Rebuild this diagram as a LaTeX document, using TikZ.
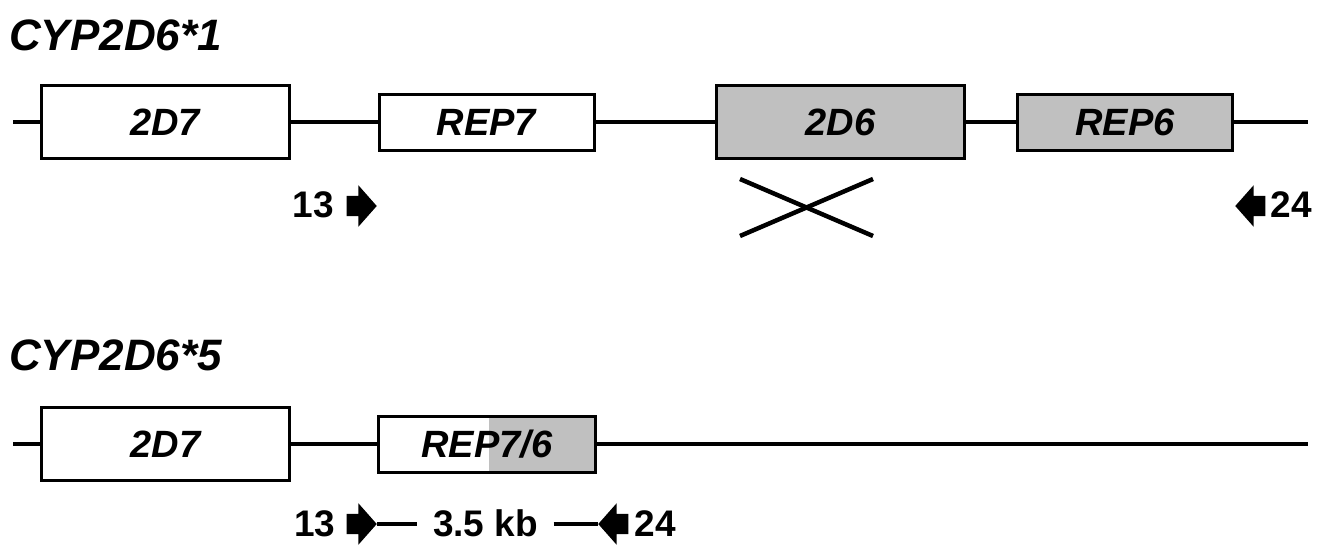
\documentclass[tikz,border=0pt]{standalone}
\usepackage{fontspec}
\setmainfont{Liberation Sans}
\usetikzlibrary{shapes.arrows}
\definecolor{boxgray}{RGB}{192,192,192}
\begin{document}
\begin{tikzpicture}[x=1pt,y=-1pt,
  genebox/.style={draw=black, line width=3pt, fill=white, inner sep=0pt,
    text height=27pt, text depth=0pt,
    font=\fontsize{38}{42}\selectfont\bfseries\itshape},
  bigbox/.style={genebox, minimum width=248pt, minimum height=73pt},
  smallbox/.style={genebox, minimum width=215pt, minimum height=56pt},
  dna/.style={draw=black, line width=3.2pt},
  crossline/.style={draw=black, line width=4.5pt},
  titletext/.style={anchor=base west, inner sep=0pt,
    font=\fontsize{44}{50}\selectfont\bfseries\itshape},
  numtext/.style={anchor=base, inner sep=0pt,
    font=\fontsize{37}{42}\selectfont\bfseries},
  blockarrow/.style={single arrow, fill=black, draw=none, inner xsep=0pt,
    inner ysep=10pt, minimum height=30pt, single arrow head extend=10.5pt,
    single arrow tip angle=97, anchor=tip},
  leftarrow/.style={blockarrow, shape border rotate=180}
]
\useasboundingbox (0,0) rectangle (1318,544);

% ---------- CYP2D6*1 ----------
\node[titletext] (t1) at (9,50) {CYP2D6*1};
\coordinate (l1s) at (13,122);
\coordinate (l1e) at (1308,122);
\node[bigbox] (d7a) at (165,122) {2D7};
\node[smallbox] (rep7) at (486.5,122) {REP7};
\node[bigbox, fill=boxgray] (d6) at (840.5,122) {2D6};
\node[smallbox, fill=boxgray] (rep6) at (1125,122) {REP6};
\draw[dna] (l1s) -- (d7a.west);
\draw[dna] (d7a.east) -- (rep7.west);
\draw[dna] (rep7.east) -- (d6.west);
\draw[dna] (d6.east) -- (rep6.west);
\draw[dna] (rep6.east) -- (l1e);

\node[blockarrow] (a13) at (377,206) {};
\node[leftarrow] (a24) at (1235,206) {};
\node[numtext] (n13a) at (313.5,217) {13};
\node[numtext] (n24a) at (1291,217) {24};

\coordinate (x1) at (740,179);
\coordinate (x2) at (873,236);
\coordinate (x3) at (740,236);
\coordinate (x4) at (873,179);
\draw[crossline] (x1) -- (x2);
\draw[crossline] (x3) -- (x4);

% ---------- CYP2D6*5 ----------
\node[titletext] (t2) at (9,370) {CYP2D6*5};
\coordinate (l2s) at (13,444);
\coordinate (l2e) at (1308,444);
\node[bigbox] (d7b) at (165.5,444) {2D7};
\node[smallbox, minimum width=217pt,
  path picture={\fill[boxgray] ([xshift=2pt]path picture bounding box.south)
    rectangle (path picture bounding box.north east);}]
  (rep76) at (487,444) {REP7/6};
\draw[dna] (l2s) -- (d7b.west);
\draw[dna] (d7b.east) -- (rep76.west);
\draw[dna] (rep76.east) -- (l2e);

\node[blockarrow] (b13) at (377,524) {};
\node[leftarrow] (b24) at (598,524) {};
\node[numtext] (n13b) at (315,536) {13};
\node[numtext] (n24b) at (655.5,536) {24};
\node[numtext, inner xsep=15.5pt] (kb) at (485.5,536) {3.5 kb};
\draw[dna] (b13.tip) -- (b13.tip -| kb.west);
\draw[dna] (kb.east |- b24.tip) -- (b24.tip);
\end{tikzpicture}
\end{document}
